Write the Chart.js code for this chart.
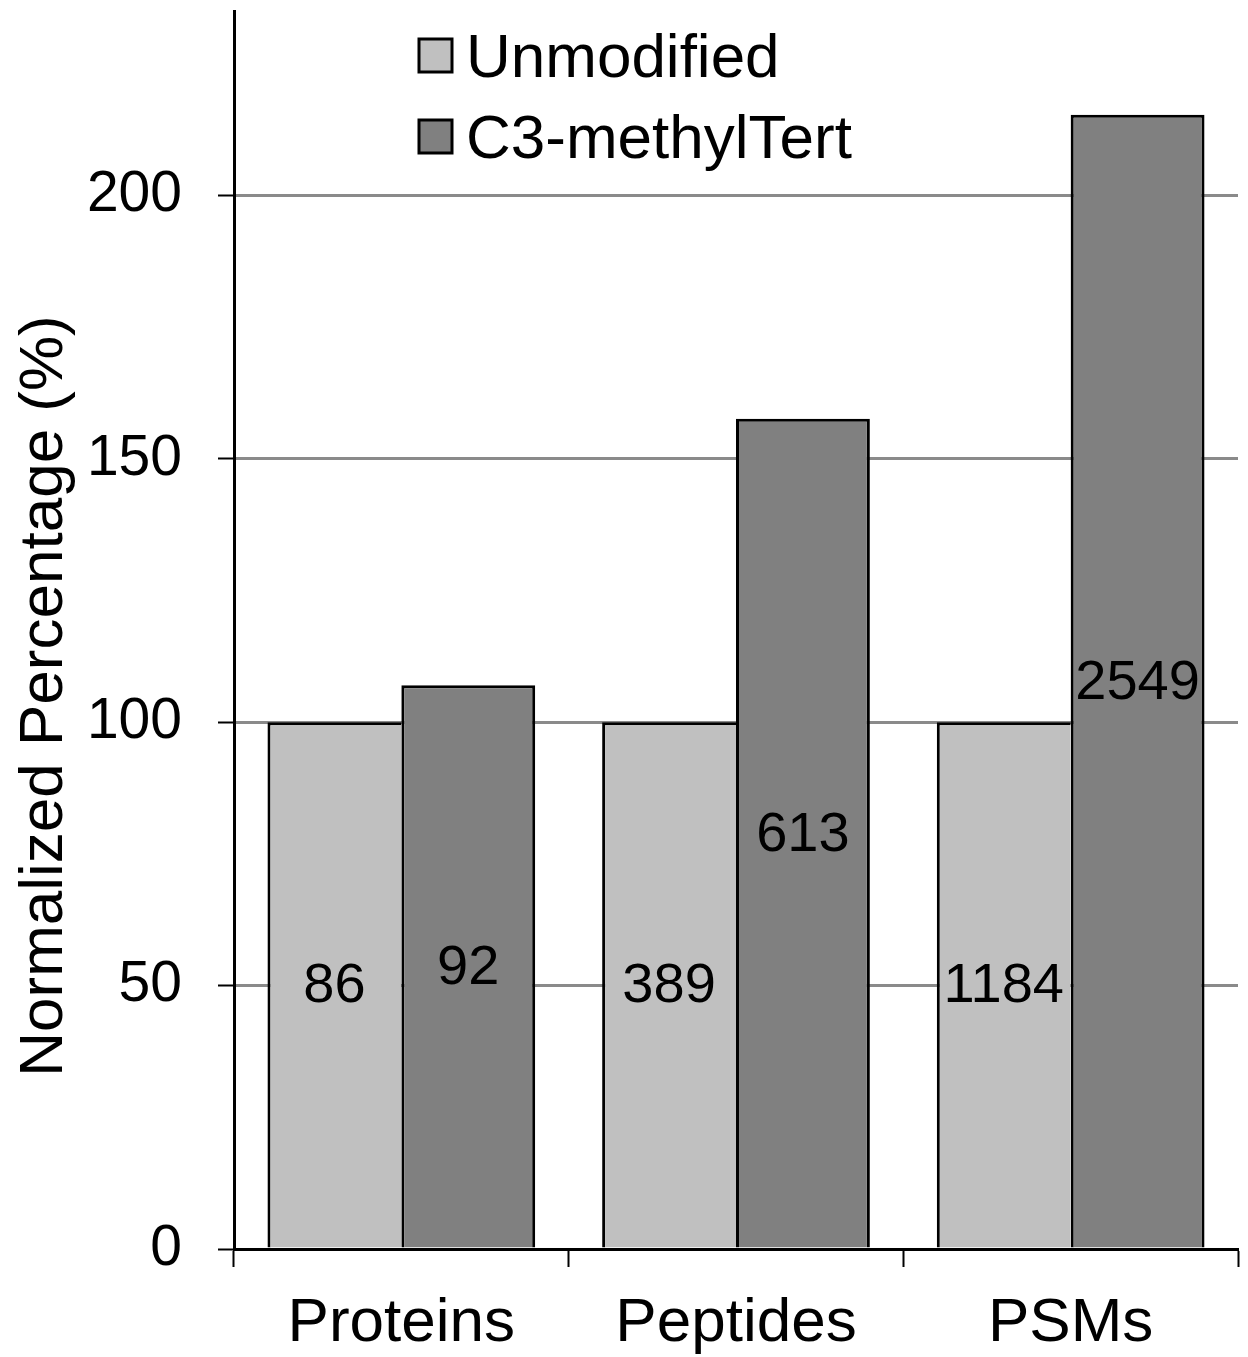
<!DOCTYPE html>
<html>
<head>
<meta charset="utf-8">
<script src="https://cdn.jsdelivr.net/npm/chart.js@4"></script>
<style>
  html, body { margin: 0; padding: 0; background: #fff; }
  canvas { display: block; }
</style>
</head>
<body>
<canvas id="chart" width="1248" height="1357"></canvas>
<script>
const categories = ['Proteins', 'Peptides', 'PSMs']
const unmodifiedValues = [100, 100, 100]
const methylTertValues = [107.0, 157.6, 215.3]
const unmodifiedCounts = [86, 389, 1184]
const methylTertCounts = [92, 613, 2549]
const yTicks = [0, 50, 100, 150, 200]

const FONT = '"Liberation Sans", Arial, sans-serif'

// counts written in the middle of each bar
const barCounts = {
  id: 'barCounts',
  afterDatasetsDraw(chart) {
    const { ctx } = chart
    ctx.save()
    ctx.font = `56px ${FONT}`
    ctx.fillStyle = '#000'
    ctx.textAlign = 'center'
    ctx.textBaseline = 'middle'
    chart.data.datasets.forEach((ds, i) => {
      chart.getDatasetMeta(i).data.forEach((bar, j) => {
        ctx.fillText(String(ds.counts[j]), bar.x, (bar.y + bar.base) / 2 + 2)
      })
    })
    ctx.restore()
  }
}

// legend inside the plot, top left
const insideLegend = {
  id: 'insideLegend',
  afterDraw(chart) {
    const { ctx } = chart
    ctx.save()
    ctx.font = `62px ${FONT}`
    ctx.textAlign = 'left'
    ctx.textBaseline = 'alphabetic'
    chart.data.datasets.forEach((ds, i) => {
      const top = 39 + i * 81
      ctx.fillStyle = ds.backgroundColor
      ctx.fillRect(419, top, 33, 33)
      ctx.lineWidth = 3
      ctx.strokeStyle = '#000'
      ctx.strokeRect(419, top, 33, 33)
      ctx.fillStyle = '#000'
      ctx.fillText(ds.label, 466, top + 38)
    })
    ctx.restore()
  }
}

// rotated y axis title
const yTitle = {
  id: 'yTitle',
  afterDraw(chart) {
    const { ctx } = chart
    ctx.save()
    ctx.translate(62, 696)
    ctx.rotate(-Math.PI / 2)
    ctx.font = `62px ${FONT}`
    ctx.fillStyle = '#000'
    ctx.textAlign = 'center'
    ctx.textBaseline = 'alphabetic'
    ctx.fillText('Normalized Percentage (%)', 0, 0)
    ctx.restore()
  }
}

new Chart(document.getElementById('chart'), {
  type: 'bar',
  data: {
    labels: categories,
    datasets: [
      {
        label: 'Unmodified',
        data: unmodifiedValues,
        counts: unmodifiedCounts,
        backgroundColor: '#c0c0c0',
        borderColor: '#000',
        borderWidth: { top: 3, left: 3, right: 0, bottom: 0 },
        borderSkipped: false
      },
      {
        label: 'C3-methylTert',
        data: methylTertValues,
        counts: methylTertCounts,
        backgroundColor: '#808080',
        borderColor: '#000',
        borderWidth: { top: 3, left: 3, right: 3, bottom: 0 },
        borderSkipped: false
      }
    ]
  },
  options: {
    responsive: false,
    devicePixelRatio: 1,
    animation: false,
    categoryPercentage: 0.8,
    barPercentage: 1.0,
    layout: { padding: { top: 11, right: 10, left: 0, bottom: 0 } },
    plugins: {
      legend: { display: false },
      tooltip: { enabled: false }
    },
    scales: {
      x: {
        grid: {
          drawOnChartArea: false,
          tickLength: 18,
          tickColor: '#000',
          tickWidth: 2
        },
        border: { color: '#000', width: 3 },
        ticks: {
          color: '#000',
          padding: 20,
          font: { family: FONT, size: 62 }
        },
        afterFit(scale) {
          scale.height = 108
          scale.paddingLeft = 0
          scale.paddingRight = 0
        }
      },
      y: {
        min: 0,
        max: 235,
        afterBuildTicks(scale) {
          scale.ticks = yTicks.map(v => ({ value: v }))
        },
        grid: {
          color: ctx => (ctx.tick && ctx.tick.value === 0 ? 'rgba(0,0,0,0)' : '#8a8a8a'),
          lineWidth: 3,
          tickLength: 16,
          tickColor: '#000',
          tickWidth: 2
        },
        border: { color: '#000', width: 3 },
        ticks: {
          color: '#000',
          padding: 36,
          font: { family: FONT, size: 57 }
        },
        afterFit(scale) {
          scale.width = 234
          scale.paddingTop = 0
          scale.paddingBottom = 0
        }
      }
    }
  },
  plugins: [barCounts, insideLegend, yTitle]
})
</script>
</body>
</html>
